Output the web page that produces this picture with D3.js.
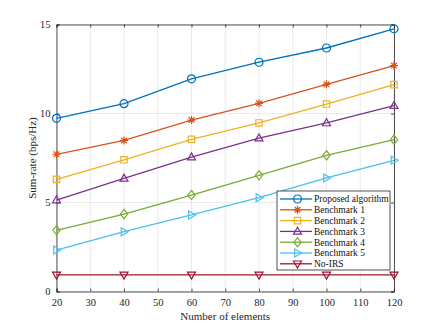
<!DOCTYPE html>
<html>
<head>
<meta charset="utf-8">
<script src="https://cdn.jsdelivr.net/npm/d3@7"></script>
<style>
  body { margin: 0; background: #fff; }
  svg text { font-family: 'Liberation Serif', 'Times New Roman', serif; }
</style>
</head>
<body>
<script>
const width = 436
const height = 328
const margin = { top: 24.5, right: 42, bottom: 36.5, left: 56.5 }

const elements = [20, 40, 60, 80, 100, 120]
const seriesNames = ['Proposed algorithm', 'Benchmark 1', 'Benchmark 2', 'Benchmark 3', 'Benchmark 4', 'Benchmark 5', 'No-IRS']
const proposed = [9.73, 10.55, 11.95, 12.88, 13.68, 14.76]
const bench1 = [7.71, 8.49, 9.63, 10.57, 11.64, 12.69]
const bench2 = [6.30, 7.40, 8.55, 9.47, 10.53, 11.62]
const bench3 = [5.14, 6.36, 7.55, 8.62, 9.47, 10.44]
const bench4 = [3.44, 4.35, 5.42, 6.53, 7.65, 8.53]
const bench5 = [2.33, 3.36, 4.30, 5.27, 6.38, 7.37]
const noIrs = [0.93, 0.93, 0.93, 0.93, 0.93, 0.93]
const xTicks = [20, 30, 40, 50, 60, 70, 80, 90, 100, 110, 120]
const yTicks = [0, 5, 10, 15]

const colors = ['#0072BD', '#D95319', '#EDB120', '#7E2F8E', '#77AC30', '#4DBEEE', '#A2142F']
const markers = ['circle', 'asterisk', 'square', 'triUp', 'diamond', 'triRight', 'triDown']
const allValues = [proposed, bench1, bench2, bench3, bench4, bench5, noIrs]

const series = seriesNames.map(function (name, i) {
  return { name: name, values: allValues[i], color: colors[i], marker: markers[i] }
})

const svg = d3.select('body').append('svg')
  .attr('width', width)
  .attr('height', height)

const x = d3.scaleLinear().domain([20, 120]).range([margin.left, width - margin.right])
const y = d3.scaleLinear().domain([0, 15]).range([height - margin.bottom, margin.top])

// grid
svg.append('g').selectAll('line.gx')
  .data(xTicks)
  .enter().append('line')
  .attr('x1', d => x(d)).attr('x2', d => x(d))
  .attr('y1', y(0)).attr('y2', y(15))
  .attr('stroke', '#e6e6e6').attr('stroke-width', 0.8)
svg.append('g').selectAll('line.gy')
  .data(yTicks)
  .enter().append('line')
  .attr('x1', x(20)).attr('x2', x(120))
  .attr('y1', d => y(d)).attr('y2', d => y(d))
  .attr('stroke', '#e6e6e6').attr('stroke-width', 0.8)

// axes, ticks inward like matlab
const axisColor = '#262626'
const gx = svg.append('g')
  .attr('transform', `translate(0,${y(0)})`)
  .call(d3.axisBottom(x).tickValues(xTicks).tickSize(-3).tickPadding(7))
const gy = svg.append('g')
  .attr('transform', `translate(${x(20)},0)`)
  .call(d3.axisLeft(y).tickValues(yTicks).tickSize(-3).tickPadding(6))
svg.append('g')
  .attr('transform', `translate(0,${y(15)})`)
  .call(d3.axisTop(x).tickValues(xTicks).tickSize(-3).tickFormat(''))
svg.append('g')
  .attr('transform', `translate(${x(120)},0)`)
  .call(d3.axisRight(y).tickValues(yTicks).tickSize(-3).tickFormat(''))

svg.selectAll('.domain, .tick line').attr('stroke', axisColor).attr('stroke-width', 0.8)
svg.selectAll('.tick text')
  .attr('font-family', "'Liberation Serif', serif")
  .attr('font-size', '10.5px')
  .attr('fill', axisColor)

svg.append('text')
  .attr('x', (x(20) + x(120)) / 2)
  .attr('y', 320)
  .attr('text-anchor', 'middle')
  .attr('font-size', '11px')
  .attr('fill', axisColor)
  .text('Number of elements')
svg.append('text')
  .attr('transform', `translate(36,${(y(0) + y(15)) / 2}) rotate(-90)`)
  .attr('text-anchor', 'middle')
  .attr('font-size', '11px')
  .attr('fill', axisColor)
  .text('Sum-rate (bps/Hz)')

const markerPath = function (type, s) {
  const p = d3.path()
  if (type === 'square') {
    p.rect(-s * 0.8, -s * 0.8, s * 1.6, s * 1.6)
  } else if (type === 'diamond') {
    p.moveTo(0, -s * 1.15); p.lineTo(s * 0.9, 0); p.lineTo(0, s * 1.15); p.lineTo(-s * 0.9, 0); p.closePath()
  } else if (type === 'triUp') {
    p.moveTo(0, -s * 1.05); p.lineTo(s, s * 0.7); p.lineTo(-s, s * 0.7); p.closePath()
  } else if (type === 'triDown') {
    p.moveTo(0, s * 1.05); p.lineTo(s, -s * 0.7); p.lineTo(-s, -s * 0.7); p.closePath()
  } else if (type === 'triRight') {
    p.moveTo(s * 1.05, 0); p.lineTo(-s * 0.7, s); p.lineTo(-s * 0.7, -s); p.closePath()
  } else if (type === 'asterisk') {
    for (let k = 0; k < 4; k++) {
      const a = k * Math.PI / 4
      p.moveTo(Math.cos(a) * s, Math.sin(a) * s)
      p.lineTo(-Math.cos(a) * s, -Math.sin(a) * s)
    }
  }
  return p.toString()
}

const drawMarker = function (g, type, color) {
  if (type === 'circle') {
    g.append('circle').attr('r', 4).attr('fill', 'none')
      .attr('stroke', color).attr('stroke-width', 1.2)
  } else {
    g.append('path').attr('d', markerPath(type, 4))
      .attr('fill', 'none').attr('stroke', color).attr('stroke-width', 1.2)
  }
}

const line = d3.line()
  .x((d, i) => x(elements[i]))
  .y(d => y(d))

series.forEach(function (s) {
  svg.append('path')
    .datum(s.values)
    .attr('d', line)
    .attr('fill', 'none')
    .attr('stroke', s.color)
    .attr('stroke-width', 1.3)
  s.values.forEach(function (v, i) {
    const g = svg.append('g').attr('transform', `translate(${x(elements[i])},${y(v)})`)
    drawMarker(g, s.marker, s.color)
  })
})

// legend
const legend = svg.append('g').attr('transform', 'translate(277,191)')
legend.append('rect')
  .attr('width', 113).attr('height', 79)
  .attr('fill', '#fff').attr('stroke', axisColor).attr('stroke-width', 0.8)
series.forEach(function (s, i) {
  const row = legend.append('g').attr('transform', `translate(0,${8 + i * 10.8})`)
  row.append('line').attr('x1', 3).attr('x2', 35)
    .attr('stroke', s.color).attr('stroke-width', 1.3)
  drawMarker(row.append('g').attr('transform', 'translate(20.5,0)'), s.marker, s.color)
  row.append('text')
    .attr('x', 37).attr('y', 3.3)
    .attr('font-size', '9.5px')
    .attr('fill', '#111')
    .text(s.name)
})
</script>
</body>
</html>
